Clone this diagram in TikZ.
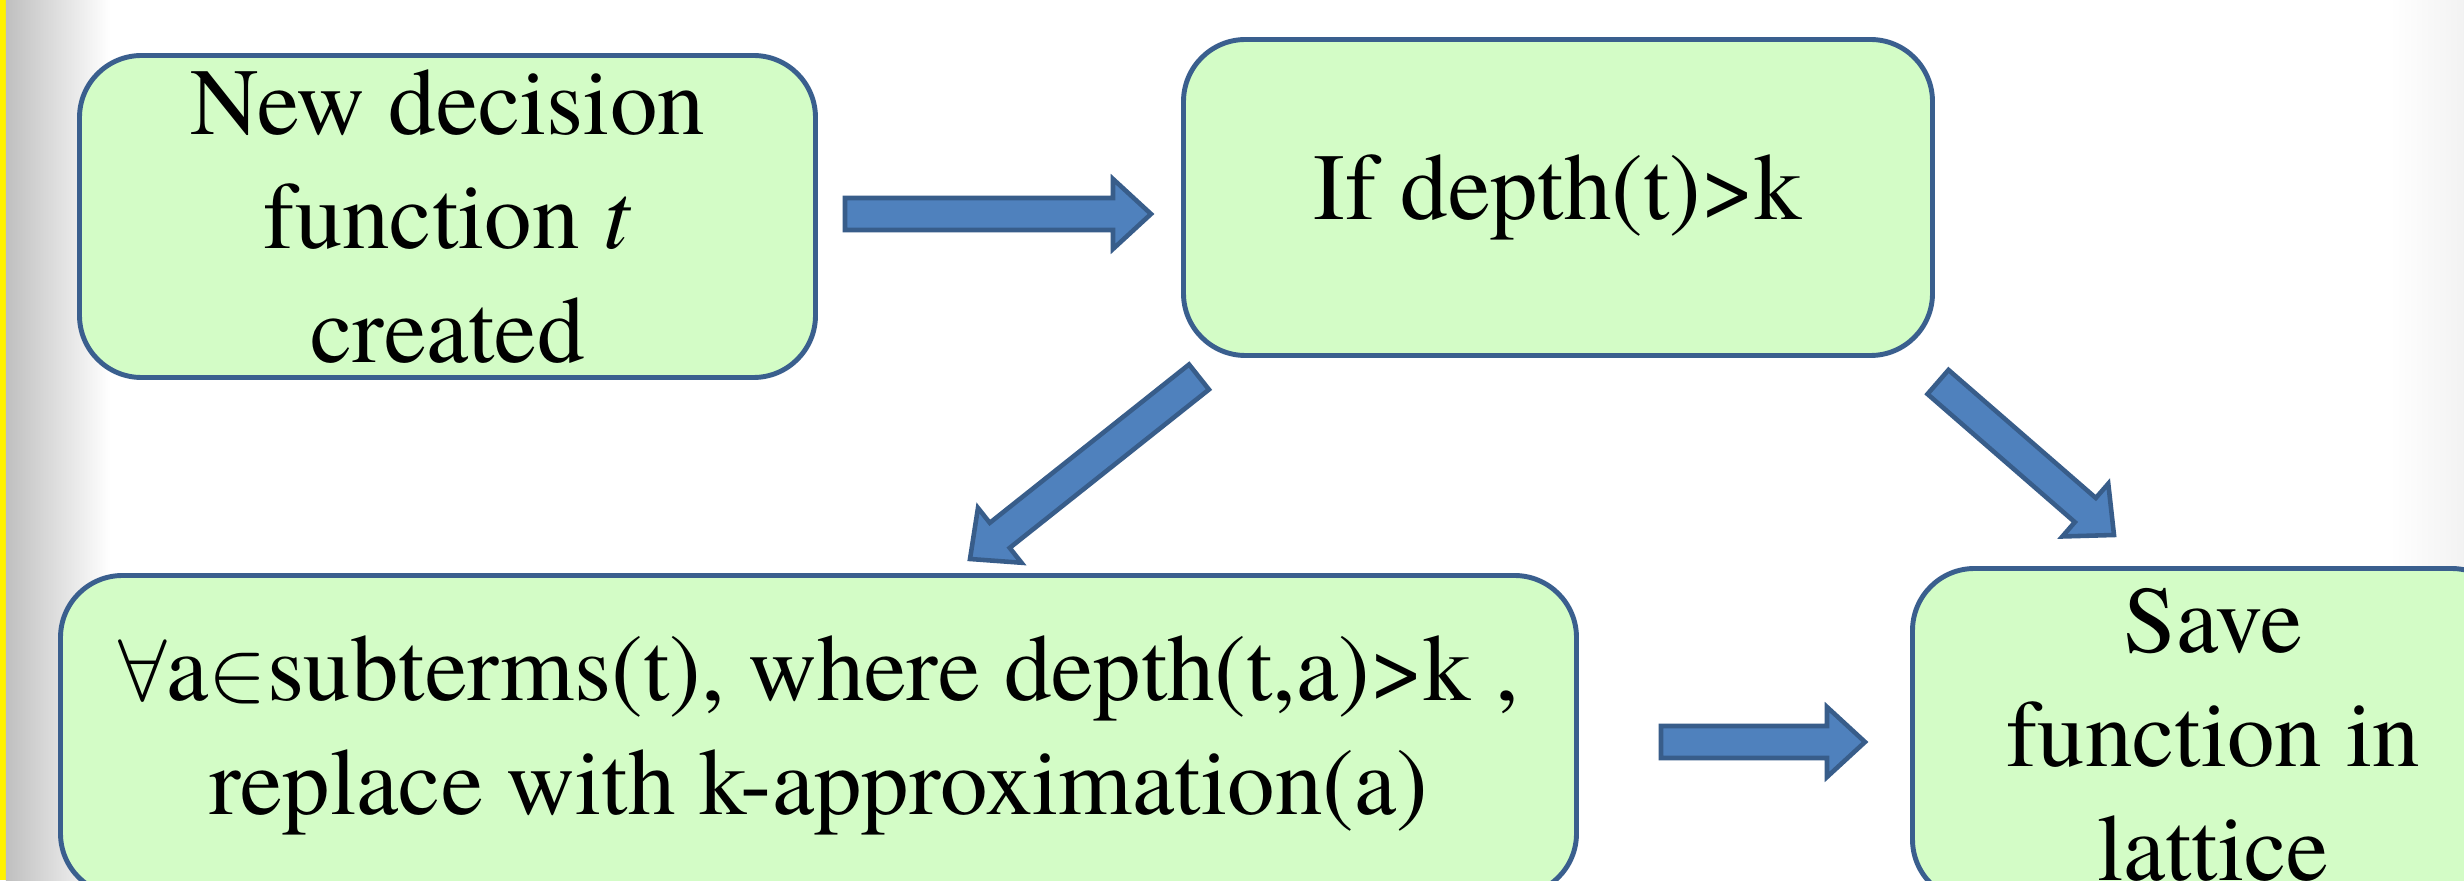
\documentclass[tikz,border=0pt]{standalone}
\usepackage{fontspec}
\setmainfont{TeX Gyre Termes}
\usetikzlibrary{calc}

\definecolor{cajafill}{HTML}{D3FCC6}
\definecolor{cajaline}{HTML}{3A5F8E}
\definecolor{flechafill}{HTML}{4F81BD}
\definecolor{flechaline}{HTML}{385D8A}

% flecha de bloque: #1 = cola, #2 = punta
\newcommand{\blockarrow}[2]{%
  \coordinate (hb) at ($(#2)!0.38cm!(#1)$);
  \filldraw[flecha] ($(#1)!0.16cm!90:(#2)$) -- ($(hb)!0.16cm!-90:(#1)$)
    -- ($(hb)!0.35cm!-90:(#1)$) -- (#2) -- ($(hb)!0.35cm!90:(#1)$)
    -- ($(hb)!0.16cm!90:(#1)$) -- ($(#1)!0.16cm!-90:(#2)$) -- cycle;
}

\begin{document}
\begin{tikzpicture}[
    caja/.style={draw=cajaline, fill=cajafill, line width=1.4pt, rounded corners=0.62cm,
                 align=center, inner sep=0pt, font=\fontsize{27}{32.5}\selectfont},
    flecha/.style={draw=flechaline, fill=flechafill, line width=1.3pt}
  ]
        \clip (0,0) rectangle (24.64,8.8);
        \useasboundingbox (0,0) rectangle (24.64,8.8);

        % --- Fondo (borde amarillo y sombra gris) ---
        \fill[white] (0,0) rectangle (24.64,8.8);
        \fill[yellow] (0,0) rectangle (0.06,8.8);
        \shade[left color=black!25, right color=white] (0.06,0) rectangle (1.1,8.8);
        \shade[left color=white, right color=black!5] (23.9,0) rectangle (24.64,8.8);

        % --- Cajas ---
        \node[caja, minimum width=7.36cm, minimum height=3.22cm] (NewFn) at (4.475,6.635)
              {New decision\\function \textit{t}\\created};
        \node[caja, minimum width=7.49cm, minimum height=3.16cm] (IfDepth) at (15.58,6.825)
              {If depth(t)>k};
        \node[caja, minimum width=15.16cm, minimum height=3.2cm] (Replace) at (8.185,1.445)
              {$\forall$a$\in$subterms(t), where depth(t,a)>k ,\\replace with k-approximation(a)};
        \node[caja, minimum width=6.01cm, minimum height=3.33cm] (Save) at (22.13,1.45)
              {Save\\function in\\lattice};

        % --- Extremos de las flechas ---
        \coordinate (a1t) at (8.45,6.66);
        \coordinate (a1p) at (11.51,6.66);
        \coordinate (a2t) at (11.99,5.03);
        \coordinate (a2p) at (9.70,3.21);
        \coordinate (a3t) at (19.38,4.98);
        \coordinate (a3p) at (21.14,3.45);
        \coordinate (a4t) at (16.61,1.38);
        \coordinate (a4p) at (18.65,1.38);

        % --- Flechas ---
        \blockarrow{a1t}{a1p}
        \blockarrow{a2t}{a2p}
        \blockarrow{a3t}{a3p}
        \blockarrow{a4t}{a4p}

\end{tikzpicture}
\end{document}
